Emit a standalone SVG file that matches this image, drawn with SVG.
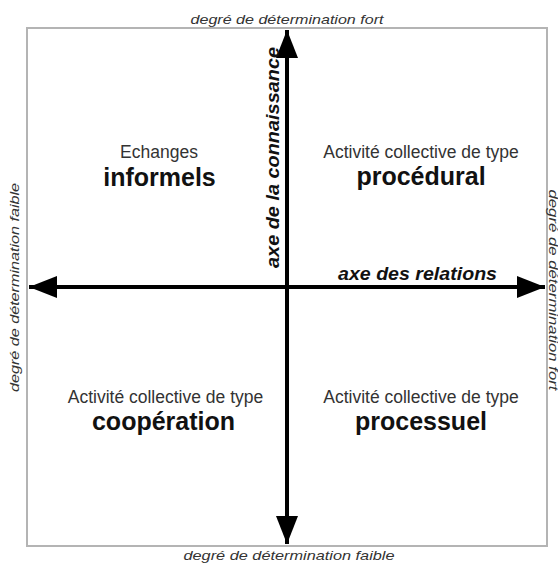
<svg xmlns="http://www.w3.org/2000/svg" width="558" height="565" viewBox="0 0 558 565">
<style>
.side{font-family:"Liberation Sans",Arial,sans-serif;font-style:italic;font-size:13px;fill:#333;text-anchor:middle}
.sub{font-family:"Liberation Sans",Arial,sans-serif;font-size:17.5px;fill:#333;text-anchor:middle}
.title{font-family:"Liberation Sans",Arial,sans-serif;font-size:25px;font-weight:bold;fill:#111;text-anchor:middle}
.axis{font-family:"Liberation Sans",Arial,sans-serif;font-size:18px;font-weight:bold;font-style:italic;fill:#111;text-anchor:middle}
.ax{stroke:#000;stroke-width:4;fill:none}
</style>
<defs>
<marker id="ah" markerUnits="userSpaceOnUse" markerWidth="28" markerHeight="22" refX="28" refY="11" orient="auto-start-reverse" viewBox="0 0 28 22">
<path d="M0,0 L28,11 L0,22 Z" fill="#000"/>
</marker>
</defs>
<rect id="frame" x="27" y="28" width="520" height="518" fill="#fff" stroke="#b4b4b4" stroke-width="2"/>
<g id="connectors">
<line class="ax" x1="287" y1="544" x2="287" y2="30" marker-start="url(#ah)" marker-end="url(#ah)"/>
<line class="ax" x1="29" y1="287" x2="545" y2="287" marker-start="url(#ah)" marker-end="url(#ah)"/>
</g>
<g id="labels-edges">
<text class="side" x="287" y="24" textLength="193" lengthAdjust="spacingAndGlyphs">degré de détermination fort</text>
<text class="side" x="289" y="560" textLength="211" lengthAdjust="spacingAndGlyphs">degré de détermination faible</text>
<text class="side" transform="translate(19,287.5) rotate(-90)" x="0" y="0" textLength="209" lengthAdjust="spacingAndGlyphs">degré de détermination faible</text>
<text class="side" style="font-size:12px" transform="translate(548.5,290) rotate(90)" x="0" y="0" textLength="201" lengthAdjust="spacingAndGlyphs">degré de détermination fort</text>
</g>
<g id="axis-labels">
<text class="axis" transform="translate(279,157.5) rotate(-90)" x="0" y="0" textLength="221" lengthAdjust="spacingAndGlyphs">axe de la connaissance</text>
<text class="axis" x="417.5" y="280" textLength="159" lengthAdjust="spacingAndGlyphs">axe des relations</text>
</g>
<g id="q-informels">
<text class="sub" x="159" y="158">Echanges</text>
<text class="title" x="159.5" y="186">informels</text>
</g>
<g id="q-procedural">
<text class="sub" x="421" y="158">Activité collective de type</text>
<text class="title" x="421" y="185">procédural</text>
</g>
<g id="q-cooperation">
<text class="sub" x="165.5" y="403">Activité collective de type</text>
<text class="title" x="163.5" y="430">coopération</text>
</g>
<g id="q-processuel">
<text class="sub" x="421" y="403">Activité collective de type</text>
<text class="title" x="421" y="430">processuel</text>
</g>
</svg>
